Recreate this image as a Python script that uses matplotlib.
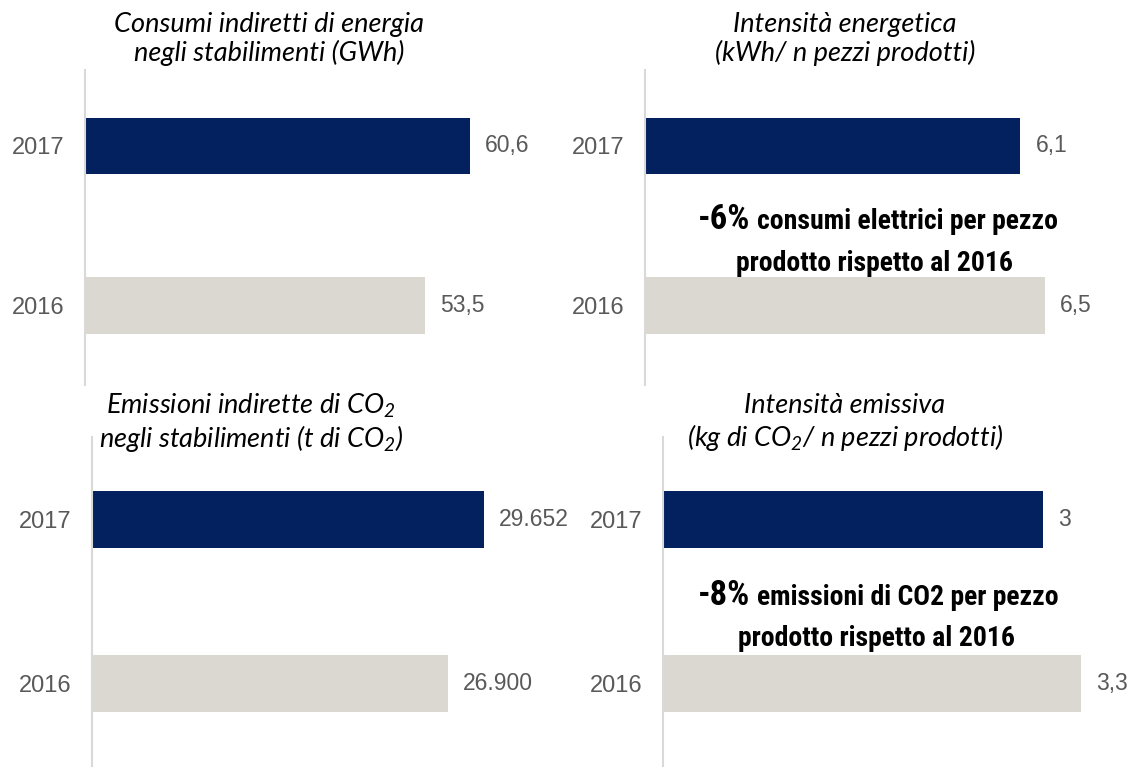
import matplotlib
matplotlib.use("Agg")
import matplotlib.pyplot as plt

plt.rcParams['font.family'] = ['Liberation Sans', 'DejaVu Sans']
plt.rcParams['mathtext.fontset'] = 'custom'
plt.rcParams['mathtext.rm'] = 'Lato:italic'
plt.rcParams['mathtext.it'] = 'Lato:italic'

# dati
anni = ['2016', '2017']
consumi = [53.5, 60.6]
intensita_en = [6.5, 6.1]
emissioni = [26900, 29652]
intensita_em = [3.3, 3.0]
lab_consumi = ['53,5', '60,6']
lab_int_en = ['6,5', '6,1']
lab_emissioni = ['26.900', '29.652']
lab_int_em = ['3,3', '3']

titoli = ['Consumi indiretti di energia\nnegli stabilimenti (GWh)',
          'Intensità energetica\n(kWh/ n pezzi prodotti)',
          'Emissioni indirette di CO$_2$\nnegli stabilimenti (t di CO$_2$)',
          'Intensità emissiva\n(kg di CO$_2$/ n pezzi prodotti)']

blu = '#03215f'
grigio = '#dbd8d1'
testo = '#595959'

W, H = 1129, 767
fig = plt.figure(figsize=(W / 100, H / 100), dpi=100)


def box(x0, x1, y0, y1):
    # pixel -> coordinate figura
    return [x0 / W, 1 - y1 / H, (x1 - x0) / W, (y1 - y0) / H]


pannelli = [
    (box(85, 470, 70, 385), consumi, lab_consumi, (-0.494, 1.475), 0.356, titoli[0], 269, 39),
    (box(645, 1045, 70, 385), intensita_en, lab_int_en, (-0.494, 1.475), 0.356, titoli[1], 845, 39),
    (box(92, 484, 437, 767), emissioni, lab_emissioni, (-0.505, 1.50), 0.347, titoli[2], 251, 423),
    (box(663, 1081, 437, 767), intensita_em, lab_int_em, (-0.505, 1.50), 0.347, titoli[3], 845, 423),
]

for pos, vals, labs, yl, h, tit, tx, ty in pannelli:
    ax = fig.add_axes(pos)
    ax.barh([0, 1], vals, height=h, color=[grigio, blu])
    ax.set_xlim(0, max(vals))
    ax.set_ylim(*yl)
    for s in ['top', 'right', 'bottom']:
        ax.spines[s].set_visible(False)
    ax.spines['left'].set_color('#d9d9d9')
    ax.spines['left'].set_linewidth(1.5)
    ax.set_xticks([])
    ax.set_yticks([0, 1])
    ax.set_yticklabels(anni, fontsize=17, color=testo)
    ax.tick_params(axis='y', length=0, pad=15)
    for i, v in enumerate(vals):
        ax.annotate(labs[i], (v, i), xytext=(11, 0), textcoords='offset points',
                    ha='left', va='center', fontsize=16.5, color=testo, annotation_clip=False)
    fig.text(tx / W, 1 - ty / H, tit, ha='center', va='center', fontsize=19.5,
             family='Lato', style='italic', color='black', linespacing=1.15)

# note
nota_font = ['Roboto Condensed', 'DejaVu Sans']
note = [('-6%', 'consumi elettrici per pezzo', 229, 271, 874),
        ('-8%', 'emissioni di CO2 per pezzo', 605, 646, 877)]
for pct, resto, y1, y2, xc in note:
    fig.text(750 / W, 1 - y1 / H, pct, ha='right', va='baseline', fontsize=25,
             family=nota_font, weight='bold', stretch='condensed', color='black')
    fig.text(757 / W, 1 - y1 / H, resto, ha='left', va='baseline', fontsize=20,
             family=nota_font, weight='bold', stretch='condensed', color='black')
    fig.text(xc / W, 1 - y2 / H, 'prodotto rispetto al 2016', ha='center', va='baseline',
             fontsize=20, family=nota_font, weight='bold', stretch='condensed', color='black')

fig.savefig('out.png', dpi=100)
